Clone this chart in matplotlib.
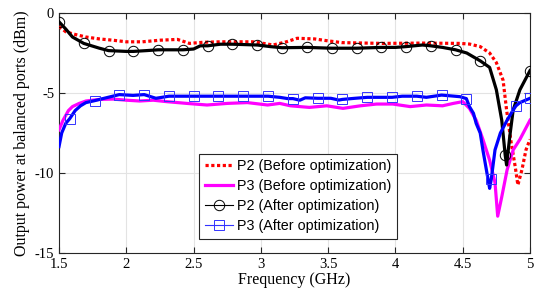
import matplotlib
matplotlib.use("Agg")
import matplotlib.pyplot as plt
from matplotlib.lines import Line2D

plt.rcParams['axes.unicode_minus'] = False
plt.rcParams['font.family'] = ['Liberation Serif', 'DejaVu Serif']

# P2 (Before optimization)
p2b_f = [1.50, 1.55, 1.60, 1.70, 1.80, 1.90, 2.00, 2.12, 2.25, 2.38, 2.47, 2.57, 2.70, 2.94,
         3.02, 3.09, 3.19, 3.27, 3.40, 3.49, 3.60, 3.90, 4.20, 4.48, 4.55, 4.63, 4.70, 4.75,
         4.80, 4.826, 4.86, 4.89, 4.91, 4.94, 4.97, 5.00]
p2b_y = [-0.85, -1.17, -1.3, -1.5, -1.62, -1.7, -1.8, -1.8, -1.7, -1.65, -1.9, -1.83, -1.8, -1.8,
         -1.9, -2.0, -1.8, -1.58, -1.62, -1.73, -1.85, -1.9, -1.88, -1.9, -1.94, -2.1, -2.5, -3.1,
         -4.2, -6.06, -8.1, -9.6, -10.75, -9.8, -8.56, -7.9]

# P3 (Before optimization)
p3b_f = [1.50, 1.53, 1.57, 1.60, 1.65, 1.70, 1.80, 1.90, 2.00, 2.10, 2.20, 2.30, 2.45, 2.60,
         2.75, 2.90, 3.05, 3.14, 3.22, 3.36, 3.49, 3.61, 3.74, 3.86, 3.98, 4.11, 4.23, 4.35,
         4.43, 4.50, 4.55, 4.60, 4.65, 4.70, 4.74, 4.76, 4.79, 4.83, 4.875, 4.925, 5.00]
p3b_y = [-7.3, -6.7, -6.1, -5.85, -5.65, -5.5, -5.4, -5.38, -5.45, -5.5, -5.45, -5.54, -5.65, -5.75,
         -5.65, -5.6, -5.75, -5.65, -5.8, -5.9, -5.8, -5.96, -5.8, -5.69, -5.69, -5.85, -5.75, -5.8,
         -5.65, -5.54, -5.96, -6.7, -7.9, -9.2, -10.6, -12.7, -11.5, -9.8, -8.56, -7.9, -6.7]

# P2 (After optimization)
p2a_f = [1.50, 1.55, 1.60, 1.684, 1.80, 1.868, 2.00, 2.053, 2.15, 2.237, 2.421, 2.50, 2.55,
         2.605, 2.70, 2.789, 2.974, 3.07, 3.158, 3.342, 3.526, 3.711, 3.895, 4.00, 4.079, 4.20,
         4.263, 4.35, 4.447, 4.53, 4.632, 4.70, 4.75, 4.79, 4.816, 4.826, 4.85, 4.875, 4.925, 5.00]
p2a_y = [-0.55, -1.0, -1.5, -1.9, -2.2, -2.35, -2.4, -2.4, -2.35, -2.3, -2.3, -2.25, -2.05,
         -2.05, -1.95, -1.95, -2.0, -2.1, -2.17, -2.15, -2.2, -2.2, -2.15, -2.15, -2.1, -2.0,
         -2.05, -2.15, -2.3, -2.5, -3.0, -3.4, -4.8, -6.7, -8.9, -9.5, -7.7, -6.06, -4.8, -3.6]
p2a_mk = [0, 3, 5, 7, 9, 10, 13, 15, 16, 18, 19, 20, 21, 22, 24, 26, 28, 30, 34, 39]

# P3 (After optimization)
p3a_f = [1.50, 1.52, 1.55, 1.58, 1.62, 1.66, 1.70, 1.764, 1.85, 1.948, 2.05, 2.133, 2.22,
         2.317, 2.501, 2.685, 2.869, 3.054, 3.14, 3.20, 3.238, 3.29, 3.33, 3.422, 3.52, 3.58,
         3.606, 3.70, 3.791, 3.975, 4.05, 4.159, 4.23, 4.343, 4.48, 4.527, 4.55, 4.58, 4.60,
         4.63, 4.65, 4.68, 4.70, 4.712, 4.74, 4.78, 4.83, 4.875, 4.896, 4.925, 5.00]
p3a_y = [-8.35, -7.5, -6.9, -6.6, -6.1, -5.8, -5.6, -5.48, -5.3, -5.1, -5.15, -5.1, -5.33,
         -5.2, -5.2, -5.2, -5.2, -5.2, -5.27, -5.35, -5.35, -5.45, -5.3, -5.33, -5.33, -5.44,
         -5.4, -5.33, -5.27, -5.27, -5.2, -5.2, -5.27, -5.13, -5.23, -5.35, -5.85, -6.27, -6.9,
         -7.5, -8.56, -10.0, -10.96, -10.4, -8.56, -7.5, -6.7, -6.06, -5.8, -5.6, -5.33]
p3a_mk = [3, 7, 9, 11, 13, 14, 15, 16, 17, 20, 23, 26, 28, 29, 31, 33, 35, 43, 48, 50]

xticks = [1.5, 2, 2.5, 3, 3.5, 4, 4.5, 5]
yticks = [-15, -10, -5, 0]
labels = ['P2 (Before optimization)', 'P3 (Before optimization)',
          'P2 (After optimization)', 'P3 (After optimization)']

fig = plt.figure(figsize=(5.34, 2.95), dpi=100)
ax = fig.add_axes([0.1105, 0.1424, 0.882, 0.8135])

ax.plot(p2b_f, p2b_y, color='red', lw=2.3, ls=(0, (1, 0.8)), dash_capstyle='butt', zorder=3)
ax.plot(p3b_f, p3b_y, color='magenta', lw=2.3, zorder=3)
ax.plot(p2a_f, p2a_y, color='black', lw=2.3, zorder=4)
ax.plot(p2a_f, p2a_y, ls='none', marker='o', ms=7.5, mfc='none', mec='black', mew=0.7,
        markevery=p2a_mk, zorder=5)
ax.plot(p3a_f, p3a_y, color='blue', lw=2.3, zorder=4)
ax.plot(p3a_f, p3a_y, ls='none', marker='s', ms=6.5, mfc='none', mec='#3333ff', mew=0.7,
        markevery=p3a_mk, zorder=5)

ax.set_xlim(1.5, 5)
ax.set_ylim(-15, 0)
ax.set_xticks(xticks)
ax.set_xticklabels([f'{t:g}' for t in xticks])
ax.set_yticks(yticks)
ax.set_yticklabels([f'{t:g}' for t in yticks])
ax.grid(True, color='#e3e3e3', lw=0.8)
ax.set_axisbelow(True)
ax.tick_params(direction='in', top=True, right=True, labelsize=10.5, length=4, width=0.8,
               colors='#262626', labelcolor='black')
for s in ax.spines.values():
    s.set_linewidth(0.8)
    s.set_color('#262626')
ax.set_xlabel('Frequency (GHz)', fontsize=11.5, labelpad=1)
ax.set_ylabel('Output power at balanced ports (dBm)', fontsize=11.5, labelpad=3)

handles = [
    Line2D([], [], color='red', lw=2.3, ls=(0, (1, 0.8)), dash_capstyle='butt'),
    Line2D([], [], color='magenta', lw=2.3),
    Line2D([], [], color='black', lw=0.8, marker='o', ms=7.5, mfc='none', mew=0.7),
    Line2D([], [], color='#3333ff', lw=0.8, marker='s', ms=6.5, mfc='none', mew=0.7),
]
leg = ax.legend(handles, labels, loc='lower left', bbox_to_anchor=(0.297, 0.058),
                borderaxespad=0, fancybox=False, framealpha=1, edgecolor='#262626',
                prop={'family': 'Liberation Sans', 'size': 10.3}, handlelength=2.0,
                handletextpad=0.25, labelspacing=0.42, borderpad=0.4)
leg.get_frame().set_linewidth(0.8)

fig.savefig('out.png', dpi=100)
